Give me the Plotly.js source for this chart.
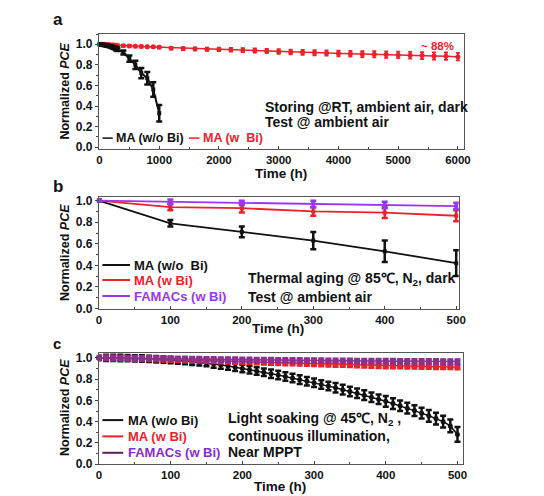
<!DOCTYPE html>
<html>
<head>
<meta charset="utf-8">
<script src="https://cdn.plot.ly/plotly-3.0.1.min.js"></script>
<style>html,body{margin:0;padding:0;background:#fff;}#chart{width:544px;height:496px;}</style>
</head>
<body>
<div id="chart"></div>
<script>
// ---------- Data ----------
// Panel a: storing @RT, ambient air, dark
const aTimeBlack = [0,25,50,75,100,125,150,175,200,225,250,275,300,400,500,600,700,800,900,1000];
const aBlack     = [1.0,0.998,0.995,0.993,0.99,0.987,0.983,0.98,0.975,0.97,0.965,0.958,0.95,0.92,0.86,0.80,0.72,0.67,0.56,0.33];
const aBlackErr  = [0.01,0.01,0.01,0.01,0.01,0.01,0.01,0.01,0.012,0.012,0.014,0.015,0.016,0.02,0.03,0.04,0.05,0.06,0.07,0.08];
const aTimeRed   = [0,25,50,75,100,125,150,175,200,225,250,275,300,400,500,600,700,800,900,1000,
                    1200,1400,1600,1800,2000,2200,2400,2600,2800,3000,3200,3400,3600,3800,4000,4200,4400,4600,4800,5000,5200,5400,5600,5800,6000];
const aRed       = [1.0,1.0,0.999,0.998,0.997,0.996,0.995,0.994,0.993,0.992,0.991,0.99,0.989,0.985,0.983,0.98,0.978,0.977,0.975,0.972,
                    0.962,0.958,0.955,0.952,0.95,0.947,0.944,0.94,0.935,0.93,0.925,0.922,0.918,0.915,0.91,0.908,0.905,0.903,0.9,0.897,0.893,0.89,0.887,0.884,0.88];
const aRedErr    = [0.01,0.01,0.01,0.01,0.01,0.01,0.01,0.01,0.01,0.01,0.01,0.01,0.01,0.01,0.01,0.01,0.01,0.01,0.01,0.012,
                    0.012,0.014,0.015,0.016,0.017,0.018,0.019,0.02,0.021,0.022,0.023,0.024,0.025,0.026,0.027,0.028,0.029,0.03,0.031,0.032,0.033,0.034,0.035,0.036,0.037];

// Panel b: thermal aging @85C
const bTime   = [0,100,200,300,400,500];
const bBlack  = [1.0,0.79,0.71,0.63,0.53,0.42];
const bBlackE = [0.01,0.03,0.05,0.08,0.10,0.12];
const bRed    = [1.0,0.94,0.93,0.90,0.89,0.86];
const bRedE   = [0.01,0.03,0.04,0.04,0.05,0.05];
const bPur    = [1.0,0.99,0.98,0.97,0.96,0.95];
const bPurE   = [0.01,0.02,0.02,0.03,0.03,0.03];

// Panel c: light soaking @45C (every 10 h)
const cTime = [0,10,20,30,40,50,60,70,80,90,100,110,120,130,140,150,160,170,180,190,200,210,220,230,240,250,260,270,280,290,300,
               310,320,330,340,350,360,370,380,390,400,410,420,430,440,450,460,470,480,490,500];
const cBlack = [1.000,1.000,0.999,0.998,0.997,0.995,0.993,0.990,0.987,0.983,0.979,0.974,0.969,0.963,0.957,0.950,0.942,0.933,0.923,0.912,0.900,
                0.888,0.876,0.864,0.851,0.838,0.824,0.810,0.795,0.780,0.765,0.750,0.734,0.718,0.701,0.684,0.667,0.649,0.630,0.611,0.591,
                0.570,0.549,0.527,0.504,0.480,0.455,0.429,0.400,0.360,0.280];
const cBlackE = [0.02,0.03,0.03,0.03,0.03,0.03,0.03,0.03,0.03,0.03,0.03,0.03,0.03,0.03,0.03,0.03,0.035,0.035,0.035,0.035,0.035,
                 0.035,0.035,0.035,0.04,0.04,0.04,0.04,0.04,0.04,0.04,0.04,0.04,0.045,0.045,0.045,0.045,0.045,0.045,0.045,0.05,
                 0.05,0.05,0.05,0.05,0.05,0.055,0.055,0.055,0.06,0.07];
const cRed = [1.000,0.999,0.998,0.997,0.995,0.993,0.991,0.989,0.987,0.985,0.983,0.981,0.979,0.977,0.975,0.973,0.971,0.969,0.967,0.965,0.963,
              0.961,0.959,0.957,0.955,0.953,0.951,0.949,0.947,0.945,0.943,0.941,0.939,0.937,0.935,0.933,0.931,0.929,0.927,0.925,0.923,
              0.922,0.921,0.920,0.919,0.918,0.917,0.916,0.915,0.914,0.912];
const cPur = [1.000,1.000,0.999,0.998,0.997,0.996,0.995,0.994,0.993,0.992,0.991,0.990,0.989,0.988,0.987,0.986,0.985,0.984,0.983,0.982,0.981,
              0.980,0.979,0.979,0.978,0.977,0.976,0.976,0.975,0.974,0.974,0.973,0.972,0.972,0.971,0.971,0.970,0.970,0.969,0.969,0.968,
              0.968,0.967,0.967,0.967,0.966,0.966,0.966,0.965,0.965,0.965];
const cSmallE = 0.02;

// Text
const seriesNames = {black:'MA (w/o Bi)', red:'MA (w  Bi)', blackB:'MA (w/o  Bi)', redB:'MA (w Bi)', pur:'FAMACs (w Bi)'};
const xTitle = 'Time (h)';
const yTitle = 'Normalized <i>PCE</i>';

// ---------- Styling ----------
const W = 544, H = 496;
const FONT = 'Liberation Sans, Arial, sans-serif';
const BLACK = '#111111', RED = '#e8232b', PUR_B = '#9a35f0', PUR_C = '#8a3090';
const px = x => x / W;
const py = y => 1 - y / H;

function tr(x, y, e, color, xa, ya, msize, msym, lw, ethick, ewidth) {
  return {
    x: x, y: y, xaxis: xa, yaxis: ya, type: 'scatter', mode: 'lines+markers',
    line: {color: color, width: lw},
    marker: {color: color, size: msize, symbol: msym},
    error_y: {type: 'data', array: e, visible: true, color: color, thickness: ethick, width: ewidth},
    cliponaxis: false, showlegend: false, hoverinfo: 'skip'
  };
}

const data = [
  tr(aTimeRed, aRed, aRedErr, RED, 'x', 'y', 5, 'circle', 1.5, 1.8, 2),
  tr(aTimeBlack, aBlack, aBlackErr, BLACK, 'x', 'y', 4, 'square', 2, 2.5, 3),
  tr(bTime, bBlack, bBlackE, BLACK, 'x2', 'y2', 4, 'square', 1.8, 2.5, 3),
  tr(bTime, bRed, bRedE, RED, 'x2', 'y2', 4, 'square', 1.8, 2.5, 3),
  tr(bTime, bPur, bPurE, PUR_B, 'x2', 'y2', 4, 'square', 1.8, 2.5, 3),
  tr(cTime, cBlack, cBlackE, BLACK, 'x3', 'y3', 5, 'circle', 1.5, 2.5, 3),
  tr(cTime, cRed, cTime.map(() => cSmallE), RED, 'x3', 'y3', 6, 'circle', 1.5, 2.5, 3),
  tr(cTime, cPur, cTime.map(() => cSmallE), PUR_C, 'x3', 'y3', 6, 'circle', 1.5, 2.5, 3)
];

const tickFont = {family: FONT, size: 11.5, color: '#111', weight: 'bold'};
const yTickFont = {family: FONT, size: 12, color: '#111', weight: 'bold'};

function xAxis(domain, range, dtick, anchor) {
  return {
    domain: domain, range: range, anchor: anchor, dtick: dtick, tick0: 0,
    ticks: 'inside', ticklen: 3, tickwidth: 1, tickcolor: '#444',
    minor: {dtick: dtick / 2, ticks: 'inside', ticklen: 2, tickcolor: '#444'},
    showline: true, linecolor: '#555', linewidth: 1, mirror: true,
    showgrid: false, zeroline: false, tickfont: tickFont,
    automargin: false
  };
}
function yAxis(domain, range, anchor) {
  return {
    domain: domain, range: range, anchor: anchor, dtick: 0.2, tick0: 0, tickformat: '.1f',
    ticks: 'outside', ticklen: 3, tickwidth: 1, tickcolor: '#444',
    minor: {dtick: 0.1, ticks: 'outside', ticklen: 2, tickcolor: '#444'},
    showline: true, linecolor: '#555', linewidth: 1, mirror: true,
    showgrid: false, zeroline: false, tickfont: yTickFont,
    automargin: false
  };
}

const layout = {
  width: W, height: H, margin: {l: 0, r: 0, t: 0, b: 0},
  paper_bgcolor: '#fff', plot_bgcolor: '#fff', showlegend: false,
  font: {family: FONT, weight: 'bold', color: '#111'},
  xaxis: xAxis([px(98.9), px(463.9)], [-10, 6100], 1000, 'y'),
  yaxis: yAxis([py(149.2), py(34)], [-0.02, 1.1], 'x'),
  xaxis2: xAxis([px(98.9), px(458.7)], [0, 503.5], 100, 'y2'),
  yaxis2: yAxis([py(309), py(196.9)], [-0.005, 1.035], 'x2'),
  xaxis3: xAxis([px(98.9), px(462.5)], [0, 507], 100, 'y3'),
  yaxis3: yAxis([py(464.2), py(352.5)], [0, 1.05], 'x3'),
  shapes: [],
  annotations: []
};

function label(text, x, y, color, size, xanchor, angle) {
  layout.annotations.push({text: text, x: px(x), y: py(y), xref: 'paper', yref: 'paper',
    xanchor: xanchor || 'left', yanchor: 'middle', showarrow: false, textangle: angle || 0, borderpad: 0,
    font: {family: FONT, size: size, color: color, weight: 'bold'}});
}
function legLine(x0, x1, y, color, w) {
  layout.shapes.push({type: 'line', xref: 'paper', yref: 'paper', x0: px(x0), x1: px(x1), y0: py(y), y1: py(y),
    line: {color: color, width: w || 2}});
}

// axis titles
label(xTitle, 281, 173, '#111', 13.5, 'center');
label(xTitle, 278, 328, '#111', 13.5, 'center');
label(xTitle, 280, 486, '#111', 13.5, 'center');
label(yTitle, 65, 91.6, '#111', 12.5, 'center', -90);
label(yTitle, 65, 253, '#111', 12.5, 'center', -90);
label(yTitle, 65, 408, '#111', 12.5, 'center', -90);

// panel letters
label('a', 52, 20, '#111', 17);
label('b', 52, 186, '#111', 17);
label('c', 52, 343, '#111', 15);

// panel a
legLine(102.4, 112.8, 138.1, BLACK, 1.5);
label(seriesNames.black, 115, 138, '#111', 12.5);
legLine(189, 199.5, 138.1, RED, 1.5);
label(seriesNames.red, 201.5, 138, RED, 12.5);
label('Storing @RT, ambient air, dark', 263.5, 107, '#111', 14);
label('Test @ ambient air', 263.5, 122.5, '#111', 14);
label('~ 88%', 455, 46, RED, 11.5, 'right');

// panel b
legLine(102.4, 130, 265, BLACK);
label(seriesNames.blackB, 133, 265, '#111', 13);
legLine(102.4, 130, 280, RED);
label(seriesNames.redB, 133, 280, RED, 13);
legLine(102.4, 130, 296, PUR_B);
label(seriesNames.pur, 133, 296, PUR_B, 13);
label('Thermal aging @ 85℃, N<sub>2</sub>, dark', 246.5, 279, '#111', 14);
label('Test @ ambient air', 246.5, 297, '#111', 14);

// panel c
legLine(102.4, 123.2, 420.1, BLACK);
label(seriesNames.black, 126.5, 420, '#111', 13);
legLine(102.4, 123.2, 436.4, RED);
label(seriesNames.redB, 126.5, 436.4, RED, 13);
legLine(102.4, 123.2, 452.8, '#5a2050');
label(seriesNames.pur, 126.5, 452.8, '#8a2ad0', 13);
label('Light soaking @ 45℃, N<sub>2</sub> ,', 227, 418.5, '#111', 14);
label('continuous illumination,', 227, 435.7, '#111', 14);
label('Near MPPT', 227, 452, '#111', 14);

Plotly.newPlot('chart', data, layout, {staticPlot: true, displayModeBar: false});
</script>
</body>
</html>
